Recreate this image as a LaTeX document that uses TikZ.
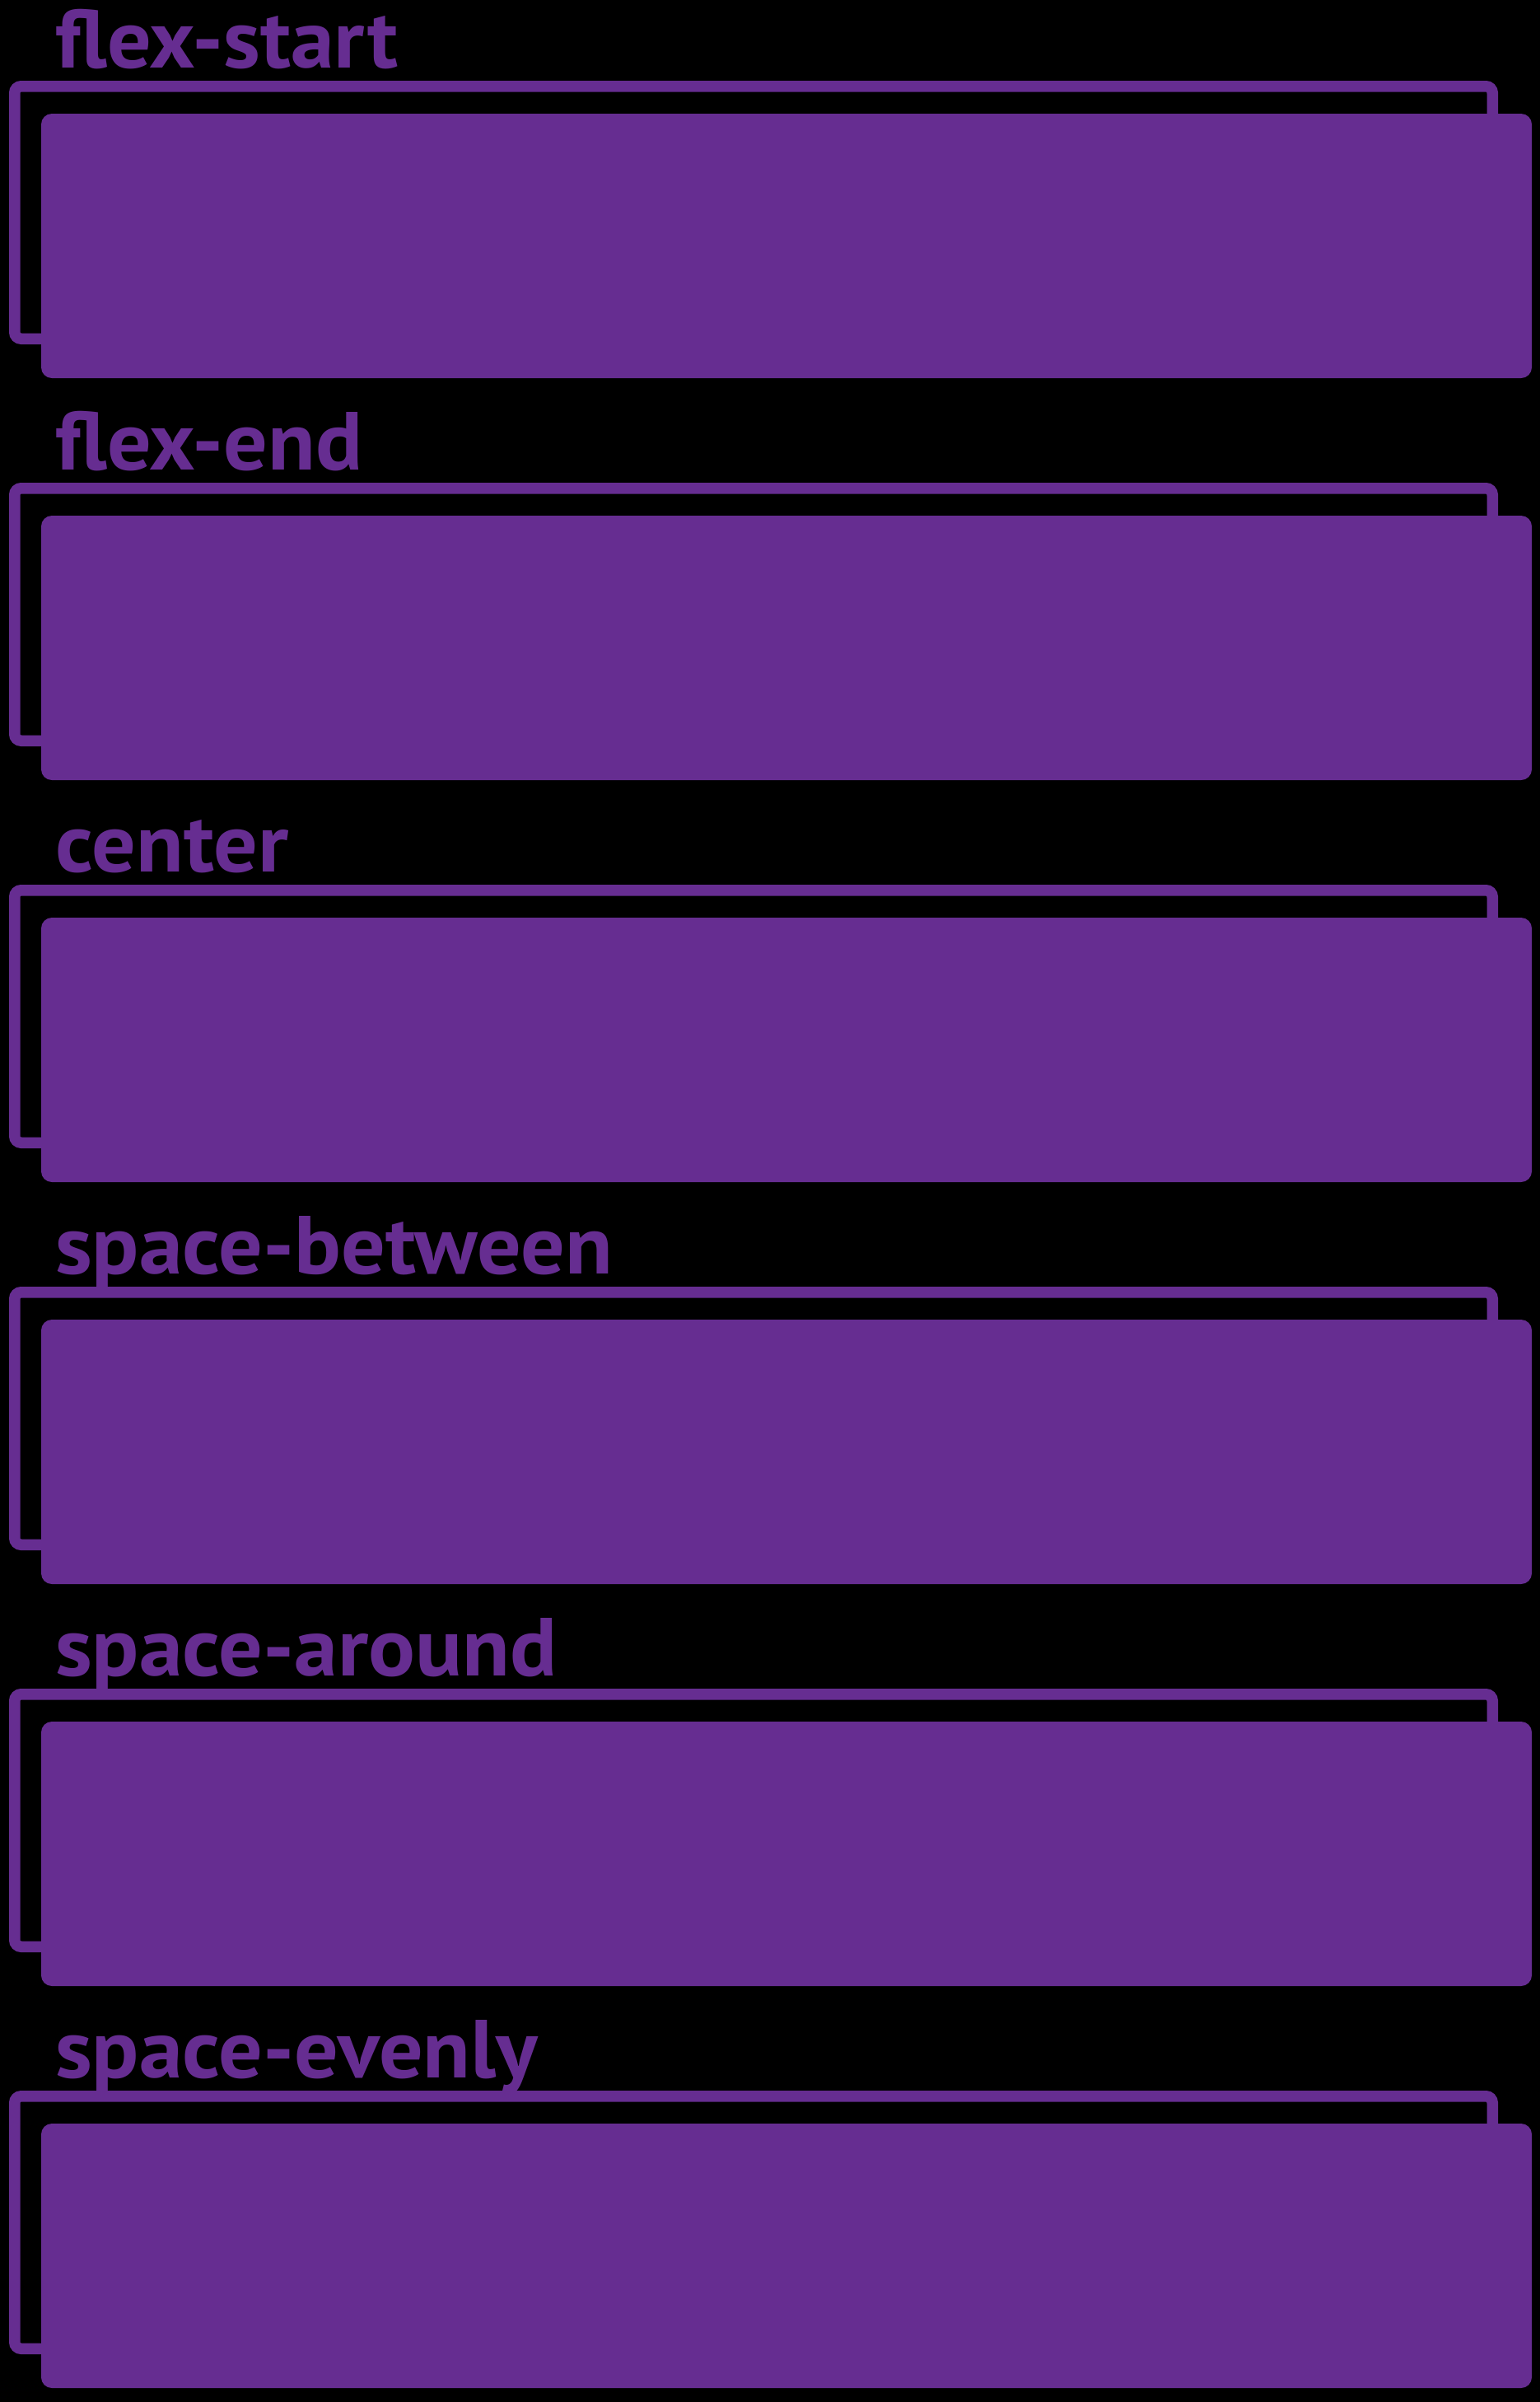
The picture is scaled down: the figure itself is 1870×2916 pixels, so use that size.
\documentclass[tikz,border=0pt]{standalone}
\usepackage{fontspec}
\usepackage{tikz}
\usetikzlibrary{positioning}
\newfontfamily\labelfont{PT Sans}[FakeStretch=1.06]
\definecolor{flexpurple}{HTML}{662D91}

\begin{document}
\begin{tikzpicture}[
  x=1pt, y=-1pt,
  frame/.style={draw=flexpurple, line width=13.5pt, rounded corners=8pt,
                minimum width=1794.5pt, minimum height=306.5pt, inner sep=0pt, outer sep=0pt},
  item/.style={fill=flexpurple, rounded corners=13pt, minimum width=1810pt,
               minimum height=321pt, inner sep=0pt, outer sep=0pt},
  lbl/.style={anchor=base west, inner sep=0pt, text=flexpurple,
              font=\labelfont\bfseries\fontsize{100}{100}\selectfont}
]
  \fill[black] (0,0) rectangle (1870,2916);

  \foreach \name [count=\i from 0] in {flex-start, flex-end, center, space-between, space-around, space-evenly} {
    \node[frame] (frame\i) at (915, 258+488*\i) {};
    \node[item]  (item\i)  at (955, 298.5+488*\i) {};
    \node[lbl]   (label\i) at (67, 82+488*\i) {\name};
  }
\end{tikzpicture}
\end{document}
